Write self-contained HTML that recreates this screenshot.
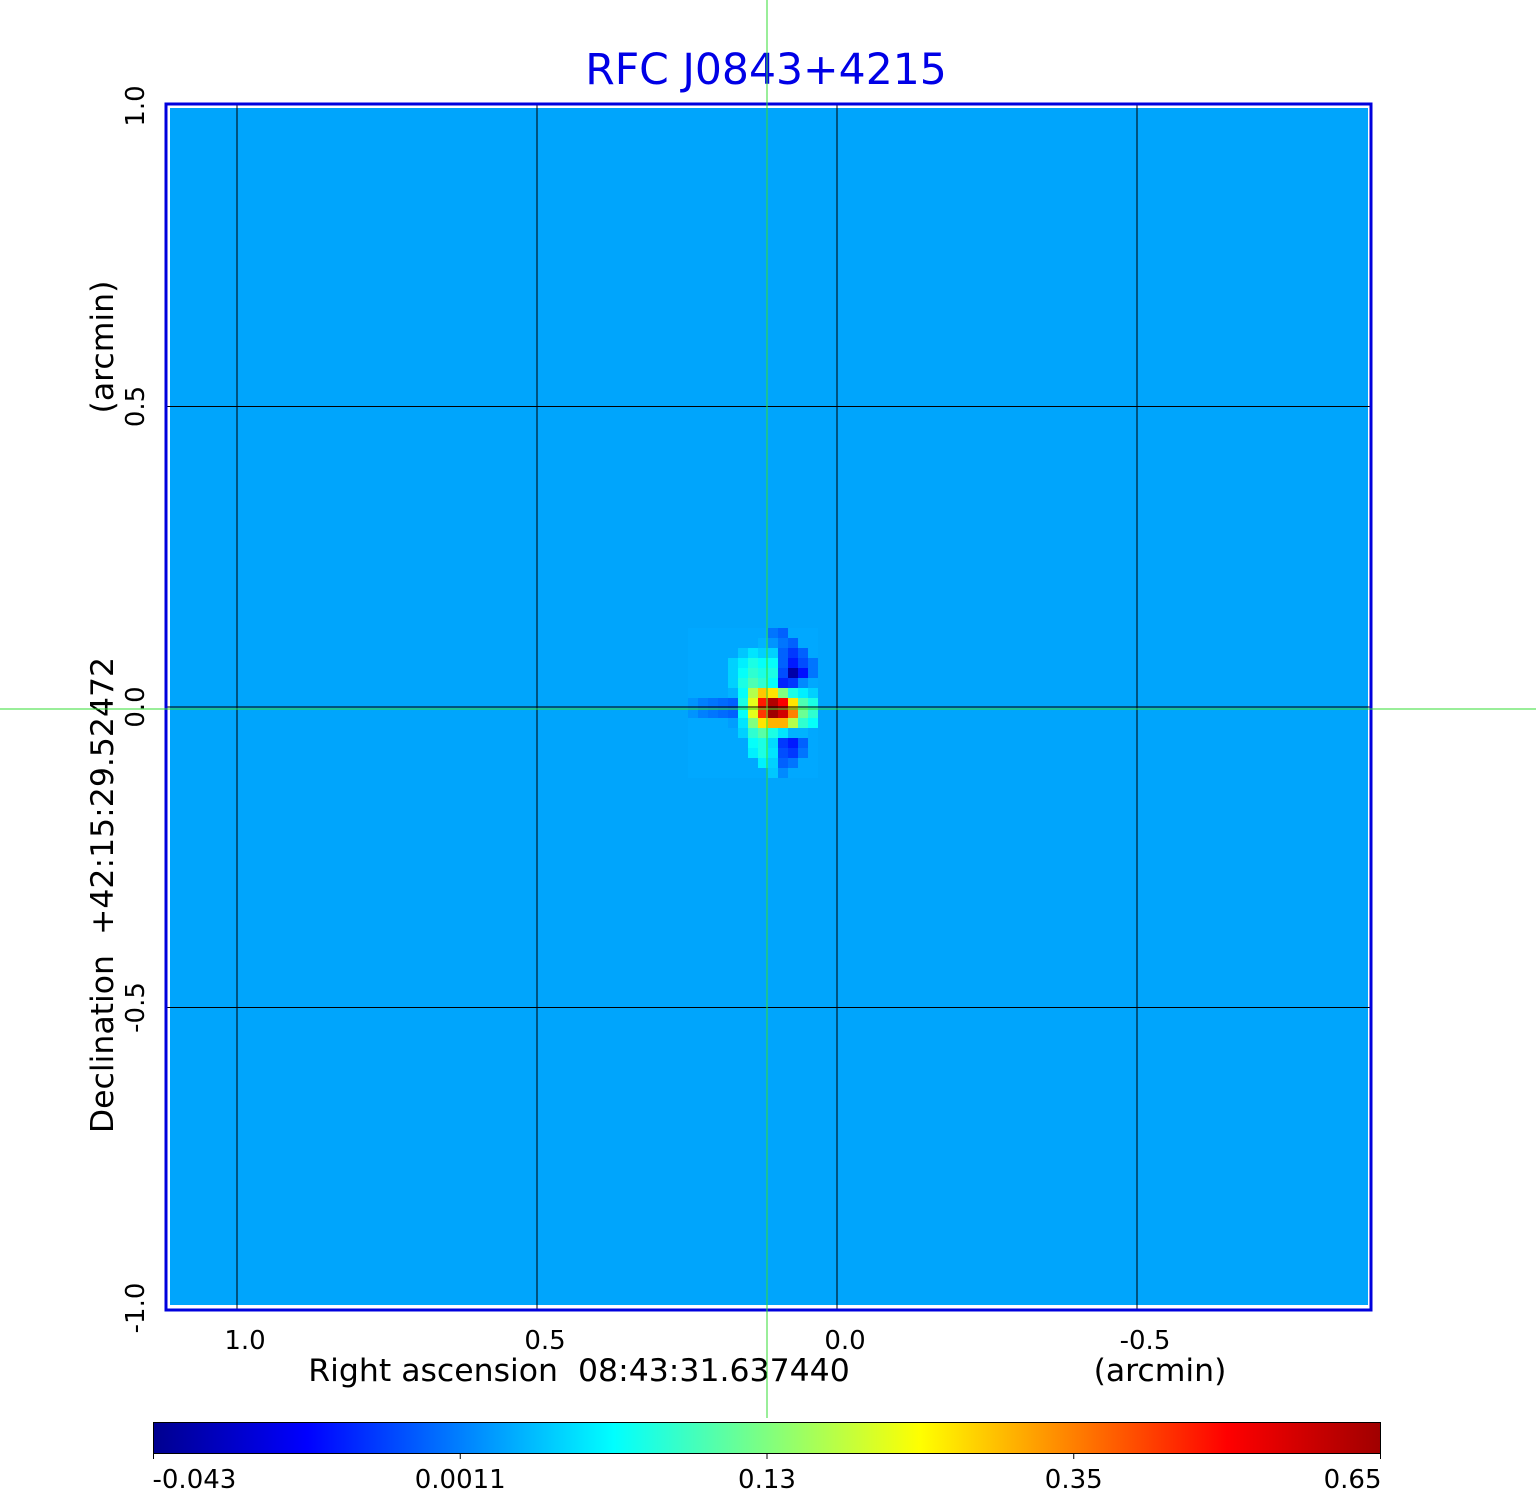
<!DOCTYPE html>
<html><head><meta charset="utf-8"><style>
html,body{margin:0;padding:0;background:#fff;}
svg{display:block;font-family:"DejaVu Sans","Liberation Sans",sans-serif;}
text{white-space:pre;}
</style></head><body>
<svg id="chart" width="1536" height="1511" viewBox="0 0 1536 1511" xml:space="preserve">
<defs>
<linearGradient id="jet" x1="0" x2="1" y1="0" y2="0">
<stop offset="0" stop-color="#00008f"/><stop offset="0.125" stop-color="#0000ff"/>
<stop offset="0.375" stop-color="#00ffff"/><stop offset="0.625" stop-color="#ffff00"/>
<stop offset="0.875" stop-color="#ff0000"/><stop offset="1" stop-color="#a00000"/>
</linearGradient>
</defs>
<text x="766" y="84" font-size="42.5" fill="#0000e6" text-anchor="middle">RFC J0843+4215</text>
<rect x="166" y="104" width="1205" height="1206" fill="#fff"/>
<rect x="170" y="108" width="1198" height="1197" fill="#00a5fc"/>
<g id="cells"></g>
<g id="grid"></g>
<rect x="166" y="104" width="1205" height="1206" fill="none" stroke="#0000dd" stroke-width="3"/>
<g id="yticks"></g>
<g id="xticks"></g>
<text transform="translate(113,895) rotate(-90)" font-size="31.5" text-anchor="middle">Declination  +42:15:29.52472</text>
<text transform="translate(113,347) rotate(-90)" font-size="31.5" text-anchor="middle">(arcmin)</text>
<text x="579" y="1381" font-size="31.5" text-anchor="middle">Right ascension  08:43:31.637440</text>
<text x="1160" y="1381" font-size="31.5" text-anchor="middle">(arcmin)</text>
<line x1="767" y1="0" x2="767" y2="1418" stroke="#33dd33" stroke-width="1"/>
<line x1="0" y1="709" x2="1536" y2="709" stroke="#33dd33" stroke-width="1"/>
<rect x="153.5" y="1422.5" width="1227" height="31" fill="url(#jet)" stroke="#000" stroke-width="1"/>
<g id="cbticks"></g>
</svg>
<script>
const cellValues = [
[0.29,0.29,0.29,0.29,0.29,0.29,0.29,0.29,0.24,0.22,0.29,0.29,0.29],
[0.29,0.29,0.29,0.29,0.29,0.29,0.29,0.30,0.27,0.24,0.22,0.29,0.29],
[0.29,0.29,0.29,0.29,0.29,0.32,0.35,0.33,0.33,0.22,0.18,0.22,0.29],
[0.29,0.29,0.29,0.29,0.33,0.36,0.40,0.38,0.38,0.22,0.15,0.20,0.24],
[0.29,0.29,0.29,0.29,0.33,0.38,0.42,0.40,0.40,0.20,0.04,0.14,0.24],
[0.29,0.29,0.29,0.29,0.33,0.40,0.45,0.42,0.38,0.16,0.18,0.26,0.29],
[0.29,0.29,0.29,0.29,0.30,0.38,0.55,0.68,0.65,0.50,0.40,0.36,0.33],
[0.27,0.25,0.24,0.23,0.22,0.40,0.60,0.85,0.95,0.88,0.65,0.45,0.40],
[0.27,0.25,0.24,0.23,0.22,0.38,0.60,0.82,0.97,0.92,0.75,0.48,0.42],
[0.29,0.29,0.29,0.29,0.28,0.35,0.50,0.65,0.70,0.70,0.55,0.42,0.38],
[0.29,0.29,0.29,0.29,0.29,0.33,0.42,0.46,0.40,0.35,0.30,0.30,0.29],
[0.29,0.29,0.29,0.29,0.29,0.29,0.38,0.40,0.34,0.18,0.15,0.22,0.29],
[0.29,0.29,0.29,0.29,0.29,0.29,0.36,0.40,0.35,0.20,0.18,0.24,0.29],
[0.29,0.29,0.29,0.29,0.29,0.29,0.29,0.36,0.33,0.22,0.24,0.29,0.29],
[0.29,0.29,0.29,0.29,0.29,0.29,0.29,0.29,0.32,0.26,0.29,0.29,0.29]
];
const xTickValues = [1.0, 0.5, 0.0, -0.5];
const xTickLabels = ["1.0","0.5","0.0","-0.5"];
const yTickValues = [1.0, 0.5, 0.0, -0.5, -1.0];
const yTickLabels = ["1.0","0.5","0.0","-0.5","-1.0"];
const cbTickFrac = [0, 0.25, 0.5, 0.75, 1];
const cbTickLabels = ["-0.043","0.0011","0.13","0.35","0.65"];

const NS='http://www.w3.org/2000/svg';
function xScale(v){ return 837 - v*600; }
function yScale(v){ return 707 - v*601; }
const CELL = 10, CX0 = 688, CY0 = 628;
function jet(t){
  t=Math.max(0,Math.min(1,t));
  const r=Math.max(0,Math.min(1,Math.min(4*t-1.5,-4*t+4.5)));
  const g=Math.max(0,Math.min(1,Math.min(4*t-0.5,-4*t+3.5)));
  const b=Math.max(0,Math.min(1,Math.min(4*t+0.5,-4*t+2.5)));
  return 'rgb('+Math.round(r*255)+','+Math.round(g*255)+','+Math.round(b*255)+')';
}
const cells=document.getElementById('cells');
cellValues.forEach((row,i)=>row.forEach((v,j)=>{
  const r=document.createElementNS(NS,'rect');
  r.setAttribute('x',CX0+j*CELL);r.setAttribute('y',CY0+i*CELL);
  r.setAttribute('width',CELL);r.setAttribute('height',CELL);
  r.setAttribute('fill',jet(v));
  
  
  cells.appendChild(r);
}));
const grid=document.getElementById('grid');
[1.0,0.5,0.0,-0.5].forEach(v=>{
  const l=document.createElementNS(NS,'line');
  l.setAttribute('x1',xScale(v));l.setAttribute('x2',xScale(v));l.setAttribute('y1',104);l.setAttribute('y2',1310);
  l.setAttribute('stroke','#000');l.setAttribute('stroke-width','1');
  
  
  grid.appendChild(l);
});
[0.5,0.0,-0.5].forEach(v=>{
  const l=document.createElementNS(NS,'line');
  l.setAttribute('y1',yScale(v));l.setAttribute('y2',yScale(v));l.setAttribute('x1',166);l.setAttribute('x2',1371);
  l.setAttribute('stroke','#000');l.setAttribute('stroke-width','1');
  
  
  grid.appendChild(l);
});
const xt=document.getElementById('xticks');
xTickValues.forEach((v,i)=>{
  const t=document.createElementNS(NS,'text');
  t.setAttribute('x',xScale(v)+8);t.setAttribute('y',1349);t.setAttribute('font-size','26');t.setAttribute('text-anchor','middle');
  t.textContent=xTickLabels[i];
  
  
  xt.appendChild(t);
});
const yt=document.getElementById('yticks');
yTickValues.forEach((v,i)=>{
  const t=document.createElementNS(NS,'text');
  t.setAttribute('transform','translate(144,'+yScale(v)+') rotate(-90)');
  t.setAttribute('font-size','26');t.setAttribute('text-anchor','middle');
  t.textContent=yTickLabels[i];
  
  
  yt.appendChild(t);
});
const cb=document.getElementById('cbticks');
cbTickFrac.forEach((f,i)=>{
  const x=153.5+f*1227;
  const l=document.createElementNS(NS,'line');
  l.setAttribute('x1',x);l.setAttribute('x2',x);l.setAttribute('y1',1453);l.setAttribute('y2',1459);l.setAttribute('stroke','#000');
  
  
  cb.appendChild(l);
  const t=document.createElementNS(NS,'text');
  let anchor='middle', tx=x;
  if(i===0){anchor='start';tx=x-1;} if(i===cbTickFrac.length-1){anchor='end';tx=x+1;}
  t.setAttribute('x',tx);t.setAttribute('y',1488);t.setAttribute('font-size','26');t.setAttribute('text-anchor',anchor);
  t.textContent=cbTickLabels[i];
  
  
  cb.appendChild(t);
});
</script>
</body></html>
